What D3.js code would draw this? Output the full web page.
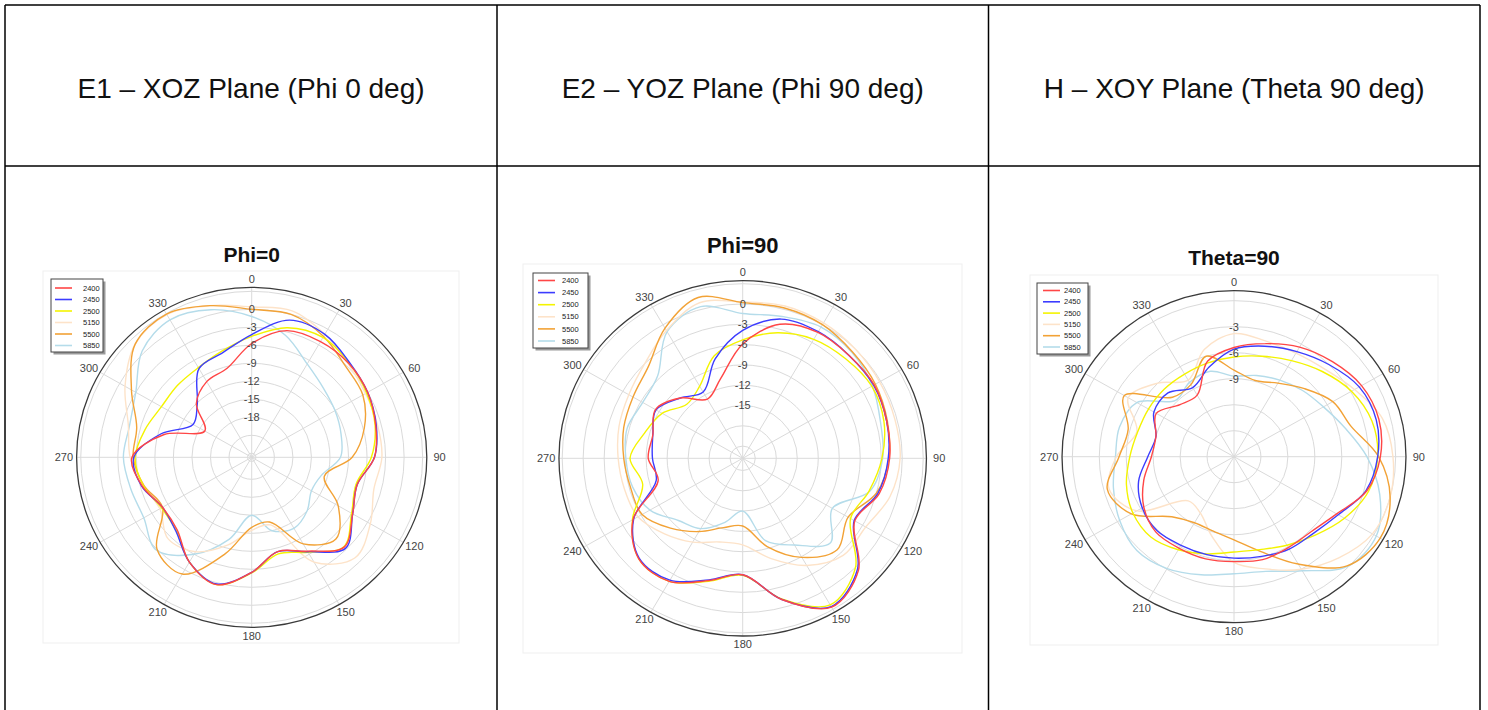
<!DOCTYPE html>
<html>
<head>
<meta charset="utf-8">
<script src="https://cdn.jsdelivr.net/npm/d3@7"></script>
<style>
  body { margin: 0; background: #fff; }
  text { font-family: "Liberation Sans", Arial, sans-serif; }
</style>
</head>
<body>
<script>
// angles (deg) at which every pattern below is sampled
var angles = d3.range(0, 360, 15);
var angleTicks = d3.range(0, 360, 30);
var freqs = ["2400", "2450", "2500", "5150", "5500", "5850"];
var seriesColors = ["#ff4646", "#3c3cff", "#f4f400", "#fde3c9", "#f2a236", "#b5dcea"];
var headerLabels = ["E1 \u2013 XOZ Plane (Phi 0 deg)", "E2 \u2013 YOZ Plane (Phi 90 deg)", "H \u2013 XOY Plane (Theta 90 deg)"];
var plotTitles = ["Phi=0", "Phi=90", "Theta=90"];

// gain in dB, Phi=0 cut
var phi0_2400 = [-5.7, -2.8, -2.4, -2.5, -3.0, -3.9, -4.8, -7.0, -5.8, -3.5, -6.6, -8.4, -5.5, -2.7, -4.5, -7.6, -8.0, -6.3, -5.3, -10.0, -15.9, -12.0, -10.1, -9.3];
var phi0_2450 = [-4.2, -1.0, -1.0, -2.3, -3.0, -3.8, -4.8, -7.0, -5.8, -3.2, -6.5, -8.4, -5.5, -2.8, -4.5, -7.3, -8.0, -6.2, -5.6, -9.5, -13.7, -12.2, -7.6, -6.6];
var phi0_2500 = [-4.5, -2.3, -1.6, -2.4, -3.2, -4.0, -5.3, -7.2, -6.0, -3.6, -6.4, -8.0, -5.4, -2.7, -4.5, -7.4, -7.8, -6.5, -5.8, -6.8, -7.8, -7.7, -7.4, -6.3];
var phi0_5150 = [0.4, 0.6, -1.0, -2.6, -3.4, -3.6, -3.6, -4.2, -2.5, -1.0, -4.5, -13.0, -12.5, -9.5, -6.5, -5.5, -7.5, -6.5, -5.0, -4.0, -1.0, 2.0, 2.8, 1.5];
var phi0_5500 = [0.0, 0.0, -1.4, -3.2, -3.9, -5.8, -8.4, -12.5, -8.5, -5.4, -8.0, -13.5, -13.0, -8.0, -2.2, -3.0, -8.0, -6.6, -5.5, -5.4, -2.2, 2.0, 2.9, 1.5];
var phi0_5850 = [-1.2, -3.6, -6.7, -8.3, -9.1, -9.7, -10.3, -13.0, -13.5, -12.0, -11.0, -12.0, -15.0, -10.5, -6.0, -2.8, -4.5, -4.4, -3.9, -4.2, -3.0, 0.4, 1.8, 0.8];

// gain in dB, Phi=90 cut
var phi90_2400 = [-5.9, -2.3, -1.3, -1.3, -1.1, -1.5, -1.8, -2.6, -4.3, 0.6, 2.6, -1.2, -5.6, -4.1, -1.8, -1.8, -4.7, -10.3, -9.3, -9.5, -8.4, -10.2, -12.7, -10.6];
var phi90_2450 = [-3.9, -1.5, -1.2, -1.3, -1.2, -1.5, -2.0, -2.8, -4.4, 0.4, 2.5, -1.2, -5.6, -4.2, -2.0, -1.9, -4.8, -10.0, -9.9, -9.5, -8.5, -10.2, -11.5, -7.6];
var phi90_2500 = [-5.3, -3.6, -2.5, -2.0, -1.5, -1.9, -2.9, -4.1, -5.0, 0.0, 2.2, -1.3, -5.5, -4.0, -1.8, -1.8, -4.6, -8.0, -6.7, -8.3, -9.5, -11.5, -10.5, -7.1];
var phi90_5150 = [0.3, 0.5, 0.3, 0.0, -0.2, -0.3, -0.3, -1.0, -2.5, -2.5, -4.5, -7.5, -10.0, -10.0, -8.5, -7.0, -5.5, -5.3, -5.0, -4.5, -4.0, -3.0, -1.0, 1.0];
var phi90_5500 = [0.2, 0.2, 0.0, -0.6, -0.9, -1.4, -1.9, -3.0, -5.4, -3.7, -5.9, -9.3, -12.8, -12.2, -10.3, -8.2, -6.2, -6.2, -5.8, -5.2, -4.7, -3.7, -0.6, 1.8];
var phi90_5850 = [-1.4, -1.1, -0.4, -0.7, -1.4, -2.4, -2.8, -4.0, -8.0, -5.1, -8.0, -10.2, -15.0, -13.0, -10.8, -9.8, -7.5, -6.5, -6.1, -5.7, -6.3, -5.6, -1.2, 0.4];

// gain in dB, Theta=90 cut
var theta90_2400 = [-5.4, -4.5, -3.4, -2.5, -1.6, -1.3, -1.7, -2.7, -4.8, -5.8, -5.9, -5.7, -5.9, -5.8, -5.8, -5.7, -6.4, -7.6, -8.8, -9.0, -8.0, -9.5, -9.8, -6.6];
var theta90_2450 = [-5.6, -4.8, -4.0, -3.0, -1.9, -1.6, -2.0, -2.8, -4.6, -5.5, -5.7, -6.1, -6.3, -6.3, -6.2, -5.9, -6.2, -7.0, -8.4, -9.0, -7.7, -7.6, -8.8, -7.3];
var theta90_2500 = [-6.5, -6.0, -5.2, -4.1, -2.9, -2.1, -2.0, -2.5, -3.8, -5.2, -6.2, -6.9, -7.0, -6.4, -5.6, -4.9, -5.0, -5.6, -6.4, -6.9, -7.0, -7.0, -7.0, -6.8];
var theta90_5150 = [-3.8, -4.2, -4.2, -3.7, -2.5, -0.9, -0.3, 0.0, -0.2, -1.5, -3.0, -4.6, -5.8, -8.5, -10.5, -10.8, -5.5, -3.6, -4.9, -6.8, -4.4, -6.0, -7.8, -5.2];
var theta90_5500 = [-8.0, -8.9, -8.2, -6.9, -5.3, -4.5, -1.9, 0.0, 0.8, -0.2, -3.7, -6.7, -8.4, -9.1, -9.2, -8.2, -4.8, -3.4, -5.2, -5.8, -3.9, -8.3, -8.4, -6.0];
var theta90_5850 = [-8.7, -8.3, -7.8, -7.2, -6.5, -5.2, -3.2, -1.2, 0.3, -0.1, -2.8, -4.3, -4.5, -3.9, -3.1, -2.7, -3.3, -4.1, -4.8, -4.8, -5.5, -8.8, -8.1, -7.8];

// layout of the three picture cells
var charts = [
  { title: plotTitles[0], titleY: 262, titleSize: 21,
    series: [phi0_2400, phi0_2450, phi0_2500, phi0_5150, phi0_5500, phi0_5850],
    cx: 251.7, cy: 457.3, r: 170, kx: 1.03, domain: [-24.67, 3.67],
    rings: d3.range(-24, 4, 3), labels: [0, -3, -6, -9, -12, -15, -18],
    frame: [43, 271, 459, 643],
    legend: { x: 51, y: 279, w: 52, h: 73, row0: 288, step: 11.5, lx: 55, tx: 83 } },
  { title: plotTitles[1], titleY: 253, titleSize: 22,
    series: [phi90_2400, phi90_2450, phi90_2500, phi90_5150, phi90_5500, phi90_5850],
    cx: 742.7, cy: 458.3, r: 177.7, kx: 1.034, domain: [-22.8, 3.46],
    rings: d3.range(-21, 4, 3), labels: [0, -3, -6, -9, -12, -15],
    frame: [523, 264, 962, 653],
    legend: { x: 533, y: 273, w: 55, h: 75, row0: 280.5, step: 12.1, lx: 538, tx: 562 } },
  { title: plotTitles[2], titleY: 265, titleSize: 21,
    series: [theta90_2400, theta90_2450, theta90_2500, theta90_5150, theta90_5500, theta90_5850],
    cx: 1234, cy: 456.7, r: 166, kx: 1.036, domain: [-18, 1.15],
    rings: d3.range(-15, 1, 3), labels: [-3, -6, -9],
    frame: [1030, 275, 1438, 645],
    legend: { x: 1037, y: 283, w: 51, h: 71, row0: 290.5, step: 11.3, lx: 1043, tx: 1064 } }
];

var width = 1488, height = 710;
var colX = [5, 497, 988.5, 1480];

var svg = d3.select("body").append("svg")
  .attr("width", width)
  .attr("height", height);

// table
var table = svg.append("g").attr("stroke", "#000").attr("stroke-width", 1.5);
[5, 166].forEach(function(y) {
  table.append("line").attr("x1", colX[0]).attr("x2", colX[3]).attr("y1", y).attr("y2", y);
});
colX.forEach(function(x) {
  table.append("line").attr("x1", x).attr("x2", x).attr("y1", 5).attr("y2", height + 2);
});

svg.selectAll("text.header")
  .data(headerLabels)
  .enter()
  .append("text")
  .attr("class", "header")
  .attr("x", function(d, i) { return (colX[i] + colX[i + 1]) / 2; })
  .attr("y", 97.5)
  .attr("text-anchor", "middle")
  .style("font-size", "28px")
  .attr("fill", "#111")
  .text(function(d) { return d; });

var toRad = Math.PI / 180;

charts.forEach(function(c) {
  var rScale = d3.scaleLinear().domain(c.domain).range([0, c.r]);

  // faint plot area frame
  svg.append("rect")
    .attr("x", c.frame[0]).attr("y", c.frame[1])
    .attr("width", c.frame[2] - c.frame[0]).attr("height", c.frame[3] - c.frame[1])
    .attr("fill", "#fff").attr("stroke", "#efefef");

  svg.append("text")
    .attr("x", c.cx).attr("y", c.titleY)
    .attr("text-anchor", "middle")
    .style("font-size", c.titleSize + "px")
    .style("font-weight", "bold")
    .attr("fill", "#111")
    .text(c.title);

  var g = svg.append("g").attr("transform", "translate(" + c.cx + "," + c.cy + ")");
  var plot = g.append("g").attr("transform", "scale(" + c.kx + ",1)");

  plot.selectAll("circle.ring")
    .data(c.rings)
    .enter()
    .append("circle")
    .attr("class", "ring")
    .attr("r", function(d) { return rScale(d); })
    .attr("fill", "none")
    .attr("stroke", "#dadada")
    .attr("vector-effect", "non-scaling-stroke");

  plot.selectAll("line.spoke")
    .data(angleTicks)
    .enter()
    .append("line")
    .attr("class", "spoke")
    .attr("x2", function(d) { return c.r * Math.sin(d * toRad); })
    .attr("y2", function(d) { return -c.r * Math.cos(d * toRad); })
    .attr("stroke", "#dadada")
    .attr("vector-effect", "non-scaling-stroke");

  plot.append("circle")
    .attr("r", c.r)
    .attr("fill", "none")
    .attr("stroke", "#3a3a3a")
    .attr("stroke-width", 1.3)
    .attr("vector-effect", "non-scaling-stroke");

  var radial = d3.lineRadial()
    .angle(function(d) { return d[0] * toRad; })
    .radius(function(d) { return rScale(d[1]); })
    .curve(d3.curveCatmullRomClosed.alpha(0.5));

  // draw higher bands first so 2400 ends on top
  var order = [5, 3, 4, 2, 1, 0];
  order.forEach(function(si) {
    var pts = angles.map(function(a, i) { return [a, c.series[si][i]]; });
    plot.append("path")
      .attr("d", radial(pts))
      .attr("fill", "none")
      .attr("stroke", seriesColors[si])
      .attr("stroke-width", 1.4)
      .attr("vector-effect", "non-scaling-stroke");
  });

  // radial tick labels on the 0 deg axis
  g.selectAll("text.rlab")
    .data(c.labels)
    .enter()
    .append("text")
    .attr("class", "rlab")
    .attr("x", 0)
    .attr("y", function(d) { return -rScale(d); })
    .attr("dy", "0.35em")
    .attr("text-anchor", "middle")
    .style("font-size", "11px")
    .attr("fill", "#444")
    .text(function(d) { return d; });

  // angle labels
  var lr = c.r + 8.5;
  g.selectAll("text.alab")
    .data(angleTicks)
    .enter()
    .append("text")
    .attr("class", "alab")
    .attr("x", function(d) {
      var s = Math.sin(d * toRad);
      return c.kx * lr * s + s * 4;
    })
    .attr("y", function(d) { return -lr * Math.cos(d * toRad); })
    .attr("dy", "0.35em")
    .attr("text-anchor", "middle")
    .style("font-size", "11px")
    .attr("fill", "#444")
    .text(function(d) { return d; });

  // legend
  var L = c.legend;
  var lg = svg.append("g");
  lg.append("rect")
    .attr("x", L.x + 2.5).attr("y", L.y + 2.5).attr("width", L.w).attr("height", L.h)
    .attr("fill", "#9a9a9a");
  lg.append("rect")
    .attr("x", L.x).attr("y", L.y).attr("width", L.w).attr("height", L.h)
    .attr("fill", "#fff").attr("stroke", "#444").attr("stroke-width", 1);
  var items = lg.selectAll("g.item")
    .data(freqs)
    .enter()
    .append("g")
    .attr("class", "item")
    .attr("transform", function(d, i) { return "translate(0," + (L.row0 + i * L.step) + ")"; });
  items.append("line")
    .attr("x1", L.lx).attr("x2", L.lx + 17)
    .attr("stroke", function(d, i) { return seriesColors[i]; })
    .attr("stroke-width", 1.6);
  items.append("text")
    .attr("x", L.tx)
    .attr("dy", "0.35em")
    .style("font-size", "7.5px")
    .attr("fill", "#222")
    .text(function(d) { return d; });
});
</script>
</body>
</html>
